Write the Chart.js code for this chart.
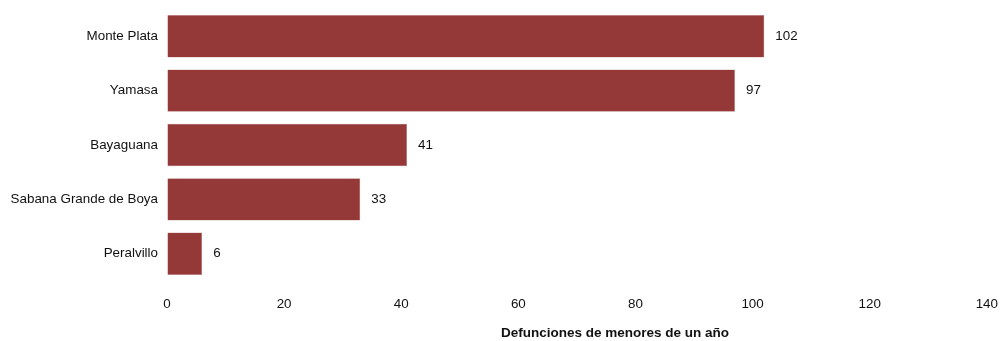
<!DOCTYPE html>
<html>
<head>
<meta charset="utf-8">
<script src="https://cdn.jsdelivr.net/npm/chart.js@4"></script>
<style>
  html, body { margin: 0; padding: 0; background: #fff; }
  #wrap { width: 1000px; height: 341px; }
</style>
</head>
<body>
<div id="wrap"><canvas id="chart"></canvas></div>
<script>
const municipios = ['Monte Plata', 'Yamasa', 'Bayaguana', 'Sabana Grande de Boya', 'Peralvillo']
const defunciones = [102, 97, 41, 33, 6]
const xTicks = [0, 20, 40, 60, 80, 100, 120, 140]
const xTitle = 'Defunciones de menores de un año'

const barColor = '#943838'
const fontFamily = 'Liberation Sans, Arial, sans-serif'

// etiquetas de valor al final de cada barra + título del eje x
const valueLabels = {
  id: 'valueLabels',
  afterDatasetsDraw(chart) {
    const ctx = chart.ctx
    const meta = chart.getDatasetMeta(0)
    ctx.save()
    ctx.font = '13.4px ' + fontFamily
    ctx.fillStyle = '#111'
    ctx.textAlign = 'left'
    ctx.textBaseline = 'middle'
    meta.data.forEach((bar, i) => {
      ctx.fillText(String(defunciones[i]), bar.x + 11, bar.y)
    })

    // título desplazado a la derecha como en el original
    const area = chart.chartArea
    ctx.font = 'bold 13.5px ' + fontFamily
    ctx.textAlign = 'center'
    ctx.fillText(xTitle, (area.left + area.right) / 2 + 38, chart.height - 8)
    ctx.restore()
  },
}

Chart.register(valueLabels)

new Chart(document.getElementById('chart'), {
  type: 'bar',
  data: {
    labels: municipios,
    datasets: [
      {
        label: 'Defunciones',
        data: defunciones,
        backgroundColor: barColor,
        borderColor: '#c88a8a',
        borderWidth: 0.5,
        barPercentage: 0.78,
        categoryPercentage: 1,
      },
    ],
  },
  options: {
    indexAxis: 'y',
    responsive: true,
    maintainAspectRatio: false,
    animation: false,
    layout: { padding: { top: 9, right: 0, left: 0, bottom: 0 } },
    plugins: {
      legend: { display: false },
      tooltip: { enabled: false },
    },
    scales: {
      x: {
        min: 0,
        max: 140,
        afterBuildTicks: (axis) => {
          axis.ticks = xTicks.map((v) => ({ value: v }))
        },
        afterFit: (axis) => {
          axis.height = 60
        },
        // marcas invisibles para separar las etiquetas del área
        grid: { display: true, drawOnChartArea: false, drawTicks: true, tickLength: 13, tickColor: 'rgba(0,0,0,0)' },
        border: { display: false },
        ticks: {
          color: '#111',
          font: { family: fontFamily, size: 13.4 },
          padding: 2,
        },
        title: { display: false },
      },
      y: {
        afterFit: (axis) => {
          axis.width = 167
        },
        grid: { display: true, drawOnChartArea: false, drawTicks: true, tickLength: 9, tickColor: 'rgba(0,0,0,0)' },
        border: { display: false },
        ticks: {
          color: '#111',
          font: { family: fontFamily, size: 13.4 },
          padding: 0,
        },
      },
    },
  },
})
</script>
</body>
</html>
